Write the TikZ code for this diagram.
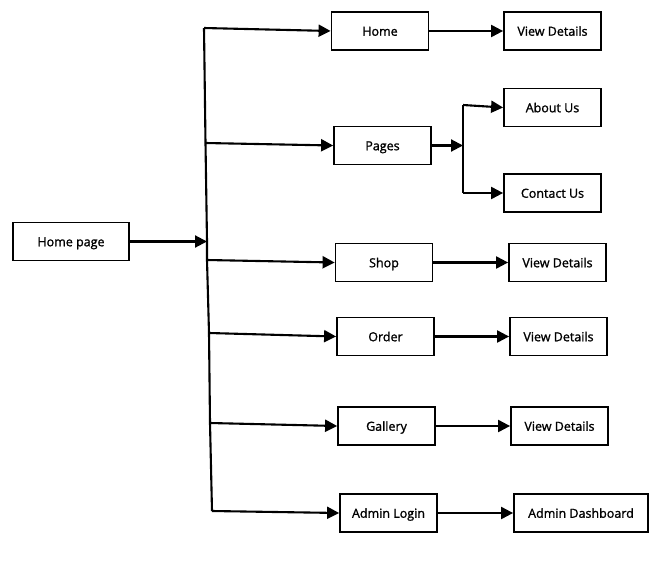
\documentclass[tikz,border=0pt]{standalone}
\usepackage{fontspec}
\setmainfont{Open Sans}[RawFeature={embolden=1.3}]
\usetikzlibrary{arrows.meta}
\begin{document}
\begin{tikzpicture}[x=1pt,y=-1pt,
  box/.style={draw=black,line width=1.8pt,minimum width=97pt,minimum height=38pt,inner sep=0pt,text height=9.5pt,text depth=0pt,font=\fontsize{12.5}{14}\selectfont},
  conn/.style={line width=2.1pt,-{Triangle[length=12pt,width=12pt]}},
  plain/.style={line width=2.1pt}]
\useasboundingbox[fill=white] (0,0) rectangle (668,567);
% nodes
\node[box,minimum width=116pt] (hp) at (71,241.5) {Home page};
\node[box] (home) at (380,31) {Home};
\node[box] (vd1) at (552.5,31) {View Details};
\node[box] (pages) at (382.5,145.5) {Pages};
\node[box] (about) at (552.5,107.5) {About Us};
\node[box] (contact) at (552.5,193) {Contact Us};
\node[box] (shop) at (384,262.5) {Shop};
\node[box] (vd2) at (557.5,262.5) {View Details};
\node[box] (order) at (385.5,336.5) {Order};
\node[box] (vd3) at (558.5,336.5) {View Details};
\node[box] (gallery) at (386.5,426) {Gallery};
\node[box] (vd4) at (559.5,426) {View Details};
\node[box] (admin) at (388.5,513) {Admin Login};
\node[box,minimum width=134pt] (dash) at (581,513) {Admin Dashboard};
% trunk coordinates
\coordinate (t1) at (204,28);
\coordinate (t2) at (205.5,143);
\coordinate (hpin) at (207,241.5);
\coordinate (t3) at (207,260);
\coordinate (t4) at (209,333);
\coordinate (t5) at (210,423);
\coordinate (t6) at (212,511);
\draw[plain,line join=round] (t1) -- (t2) -- (hpin) -- (t3) -- (t4) -- (t5) -- (t6);
\draw[conn] (hp.east) -- (hpin);
\draw[conn] (t1) -- (home.west);
\draw[conn] (t2) -- (pages.west);
\draw[conn] (t3) -- (shop.west);
\draw[conn] (t4) -- (order.west);
\draw[conn] (t5) -- (gallery.west);
\draw[conn] (t6) -- (admin.west);
% second level
\draw[conn] (home.east) -- (vd1.west);
\draw[conn] (shop.east) -- (vd2.west);
\draw[conn] (order.east) -- (vd3.west);
\draw[conn] (gallery.east) -- (vd4.west);
\draw[conn] (admin.east) -- (dash.west);
% pages split
\coordinate (ps) at (463,145.5);
\coordinate (pt) at (463,105);
\coordinate (pb) at (463,193);
\draw[conn] (pages.east) -- (ps);
\draw[plain] (pt) -- (pb);
\draw[conn] (pt) -- (about.west);
\draw[conn] (pb) -- (contact.west);
\end{tikzpicture}
\end{document}
